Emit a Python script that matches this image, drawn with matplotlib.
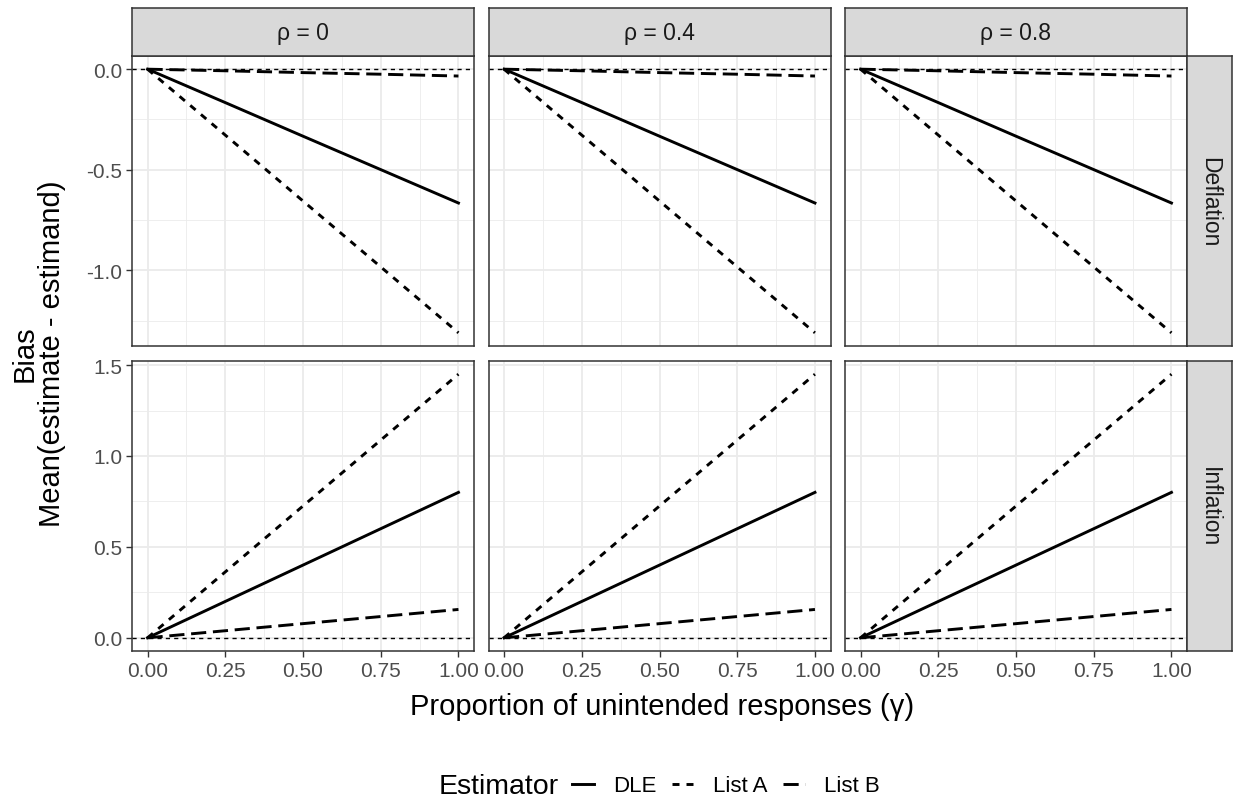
import matplotlib.pyplot as plt
from matplotlib.lines import Line2D

plt.rcParams['font.family'] = ['Liberation Sans', 'DejaVu Sans']

gamma = [0.0, 0.25, 0.5, 0.75, 1.0]
rho_labels = ["ρ = 0", "ρ = 0.4", "ρ = 0.8"]
row_labels = ["Deflation", "Inflation"]
estimators = ["DLE", "List A", "List B"]

# mean bias (same in every rho column)
dle_defl = [0.0, -0.166, -0.333, -0.499, -0.665]
lista_defl = [0.0, -0.3275, -0.655, -0.9825, -1.31]
listb_defl = [0.0, -0.008, -0.017, -0.025, -0.034]
dle_infl = [0.0, 0.2, 0.4, 0.6, 0.8]
lista_infl = [0.0, 0.3625, 0.725, 1.0875, 1.45]
listb_infl = [0.0, 0.039, 0.078, 0.117, 0.156]

x_ticks = [0.0, 0.25, 0.5, 0.75, 1.0]
x_ticklabels = ["0.00", "0.25", "0.50", "0.75", "1.00"]
y_ticks = {"Deflation": [-1.0, -0.5, 0.0], "Inflation": [0.0, 0.5, 1.0, 1.5]}
y_minor = {"Deflation": [-1.25, -0.75, -0.25], "Inflation": [0.25, 0.75, 1.25]}

data = {
    "Deflation": [dle_defl, lista_defl, listb_defl],
    "Inflation": [dle_infl, lista_infl, listb_infl],
}

LW = 2.1
styles = {
    "DLE": dict(linestyle="-"),
    "List A": dict(linestyle=(0, (2.4, 2.4))),
    "List B": dict(linestyle=(0, (5.2, 2.3))),
}

W, H = 1235, 804
fig = plt.figure(figsize=(W / 100, H / 100), dpi=100)

col_left = [132, 488.5, 845]
col_w = 342
row_top = [57, 362]
row_h = 290
strip_h = 48
strip_w = 45
border = "#333333"
grid_c = "#EBEBEB"
tick_c = "#4D4D4D"


def frac(x0, y0, w, h):
    return [x0 / W, 1 - (y0 + h) / H, w / W, h / H]


for r, row in enumerate(row_labels):
    series = data[row]
    lo = min(min(s) for s in series)
    hi = max(max(s) for s in series)
    pad = (hi - lo) * 0.05
    for c, rho in enumerate(rho_labels):
        ax = fig.add_axes(frac(col_left[c], row_top[r], col_w, row_h))
        ax.set_xlim(-0.05, 1.05)
        ax.set_ylim(lo - pad, hi + pad)
        for v in [0.125, 0.375, 0.625, 0.875]:
            ax.axvline(v, color=grid_c, lw=0.6, zorder=0)
        for v in y_minor[row]:
            ax.axhline(v, color=grid_c, lw=0.6, zorder=0)
        for v in x_ticks:
            ax.axvline(v, color=grid_c, lw=1.3, zorder=0)
        for v in y_ticks[row]:
            ax.axhline(v, color=grid_c, lw=1.3, zorder=0)
        ax.axhline(0, color="black", lw=1.0, linestyle=(0, (3, 3)), zorder=1)
        for name, ys in zip(estimators, series):
            ax.plot(gamma, ys, color="black", lw=LW, zorder=2, **styles[name])

        ax.set_xticks(x_ticks)
        ax.set_yticks(y_ticks[row])
        ax.tick_params(length=4, width=1.0, color=border, labelsize=15,
                       labelcolor=tick_c, pad=3)
        if r == 1:
            ax.set_xticklabels(x_ticklabels)
        else:
            ax.set_xticklabels([])
            ax.tick_params(axis="x", length=0)
        if c == 0:
            ax.set_yticklabels([f"{v:.1f}" for v in y_ticks[row]])
        else:
            ax.set_yticklabels([])
            ax.tick_params(axis="y", length=0)
        for s in ax.spines.values():
            s.set_color(border)
            s.set_linewidth(1.1)

        if r == 0:
            st = fig.add_axes(frac(col_left[c], row_top[0] - strip_h, col_w, strip_h))
            st.set_facecolor("#D9D9D9")
            st.set_xticks([])
            st.set_yticks([])
            for s in st.spines.values():
                s.set_color(border)
                s.set_linewidth(1.1)
            st.text(0.5, 0.5, rho, ha="center", va="center", fontsize=16.5,
                    color="#1A1A1A", transform=st.transAxes)

    st = fig.add_axes(frac(col_left[2] + col_w, row_top[r], strip_w, row_h))
    st.set_facecolor("#D9D9D9")
    st.set_xticks([])
    st.set_yticks([])
    for s in st.spines.values():
        s.set_color(border)
        s.set_linewidth(1.1)
    st.text(0.5, 0.5, row, ha="center", va="center", rotation=-90,
            fontsize=16.5, color="#1A1A1A", transform=st.transAxes)

fig.text(662 / W, 1 - 707 / H, "Proportion of unintended responses (γ)",
         ha="center", va="center", fontsize=21)
fig.text(38.5 / W, 1 - 354 / H, "Bias\nMean(estimate - estimand)",
         ha="center", va="center", rotation=90, fontsize=21,
         linespacing=0.95, multialignment="center")

fig.text(439 / W, 1 - 787 / H, "Estimator", ha="left", va="center", fontsize=20.5)
handles = [Line2D([], [], color="black", lw=LW, **styles[n]) for n in estimators]
fig.legend(handles, estimators, loc="center left",
           bbox_to_anchor=(572 / W, 1 - 787 / H), ncol=3, frameon=False,
           fontsize=16, handlelength=1.0, handletextpad=0.85,
           columnspacing=0.7, borderaxespad=0, borderpad=0)

fig.savefig("out.png", dpi=100, facecolor="white")
